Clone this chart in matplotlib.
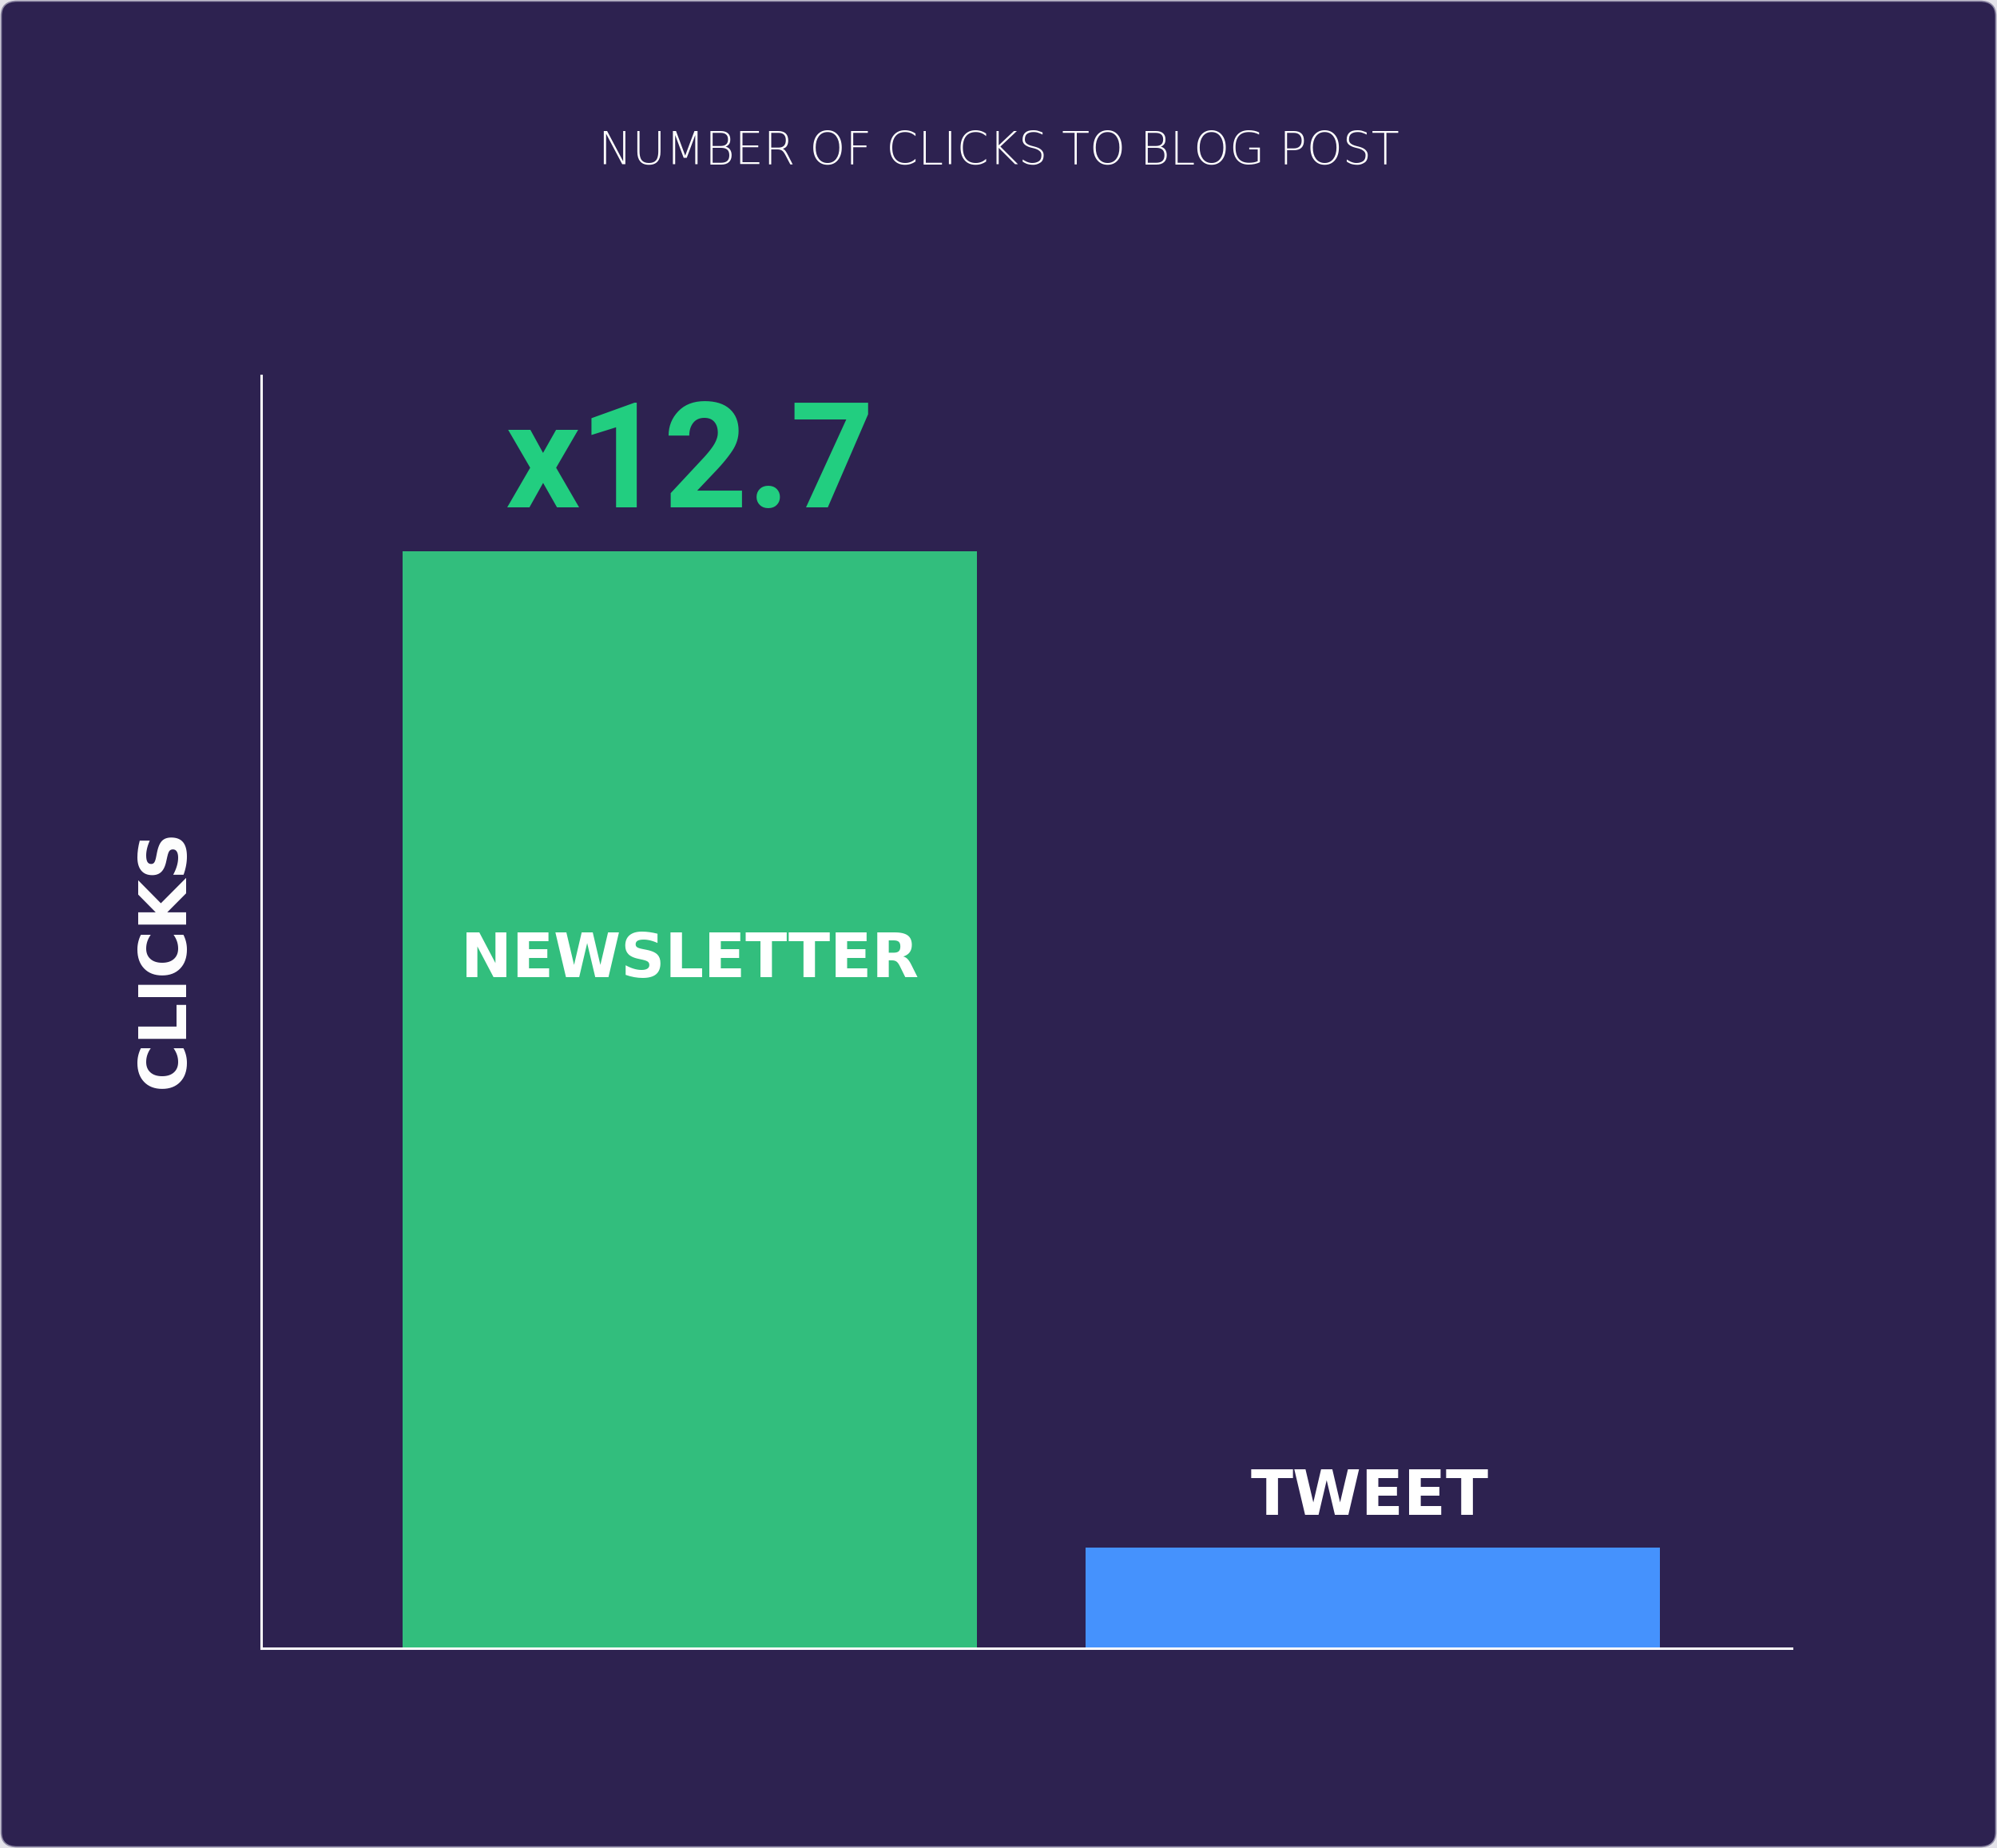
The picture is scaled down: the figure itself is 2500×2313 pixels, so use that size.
import matplotlib.pyplot as plt
from matplotlib.patches import FancyBboxPatch

channels = ['NEWSLETTER', 'TWEET']
clicks = [10.9, 1.0]
bar_colors = ['#32BE7D', '#4592FD']
ratio_label = 'x12.7'
title = 'NUMBER OF CLICKS TO BLOG POST'
ylabel = 'CLICKS'

bg = '#2D2250'

fig = plt.figure(figsize=(25, 23.13), dpi=100, facecolor='#e4e3ea')

# rounded card behind everything
card = FancyBboxPatch((0.0006, 0.0006), 0.9988, 0.9988,
                      boxstyle='round,pad=0,rounding_size=0.008',
                      transform=fig.transFigure, facecolor=bg,
                      edgecolor='#8f8aa6', linewidth=1.2, zorder=-10)
fig.patches.append(card)

ax = fig.add_axes([0.1307, 0.1081, 0.7666, 0.6887])
ax.set_facecolor('none')

x = list(range(len(channels)))
bars = ax.bar(x, clicks, width=0.8406, color=bar_colors, zorder=2)

ax.set_xlim(-0.627, 1.613)
ax.set_ylim(0, 12.65)

for side in ['top', 'right']:
    ax.spines[side].set_visible(False)
for side in ['left', 'bottom']:
    ax.spines[side].set_color('white')
    ax.spines[side].set_linewidth(2.2)
    ax.spines[side].set_zorder(3)
ax.set_xticks([])
ax.set_yticks([])

# big ratio above the newsletter bar
ax.annotate(ratio_label, xy=(x[0], clicks[0]), xytext=(0, 40),
            textcoords='offset points', ha='center', va='baseline',
            color='#22CE80', fontsize=132, fontweight='bold',
            family='Roboto')

# category labels
ax.text(x[0], clicks[0] * 0.612, channels[0], ha='center', va='baseline',
        color='white', fontsize=55, fontweight='bold', family='DejaVu Sans')
ax.annotate(channels[1], xy=(x[1], clicks[1]), xytext=(-3, 29.5),
            textcoords='offset points', ha='center', va='baseline',
            color='white', fontsize=56, fontweight='bold',
            family='DejaVu Sans')

fig.text(0.083, 0.4817, ylabel, rotation=90, ha='center', va='center',
         color='white', fontsize=59, fontweight='bold', family='DejaVu Sans')

fig.text(0.5, 0.911, title, ha='center', va='baseline', color='white',
         fontsize=41, fontweight='light', family='DejaVu Sans')

fig.savefig('out.png', dpi=100, facecolor=fig.get_facecolor())
